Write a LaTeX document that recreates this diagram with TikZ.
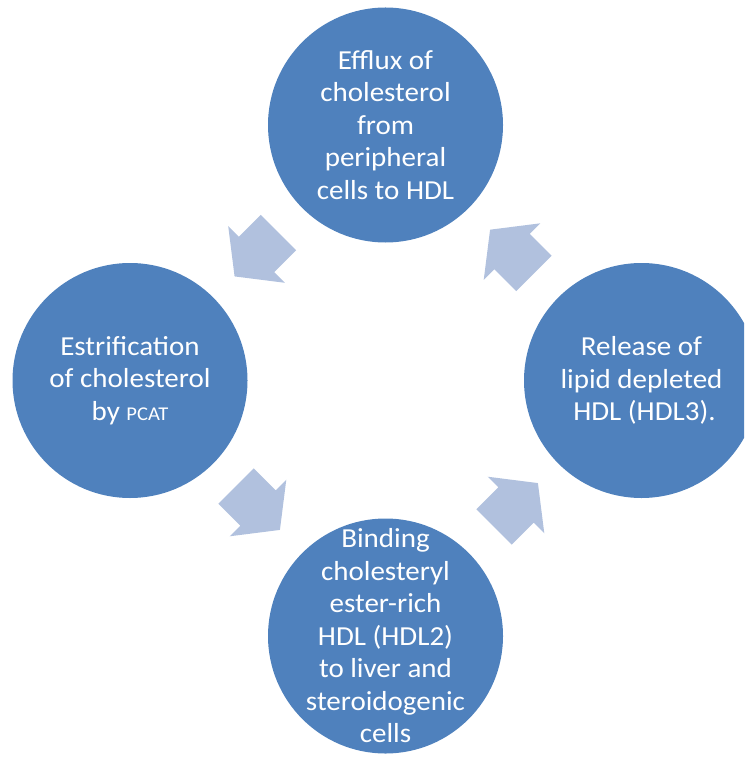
\documentclass[tikz,border=0pt]{standalone}
\usepackage{fontspec}
\setmainfont{Carlito}[FakeStretch=1.055]
\definecolor{circblue}{RGB}{79,129,189}
\definecolor{arrowblue}{RGB}{177,193,222}
\begin{document}
\begin{tikzpicture}[x=1pt,y=-1pt,
  stage/.style={circle, fill=circblue, minimum size=235pt, inner sep=0pt},
  stagetext/.style={inner sep=0pt, text=white, align=center, font=\fontsize{27.5}{32.5}\selectfont},
  cyclearrow/.pic={\fill[arrowblue] (-31,-25) -- (0,-25) -- (0,-40) -- (31,0) -- (0,40) -- (0,25) -- (-31,25) -- cycle;}]
\useasboundingbox (0,0) rectangle (744,759);
\clip (0,0) rectangle (744,759);
\node[stage] (top) at (385.5,125) {};
\node[stage] (left) at (130,380.5) {};
\node[stage] (right) at (641.5,380.5) {};
\node[stage] (bottom) at (385.5,636) {};
\node[stagetext] (toptext) at (top.center) {Efflux of\\cholesterol\\from\\peripheral\\cells to HDL};
\node[stagetext] (lefttext) at (left.center) {Estrification\\of cholesterol\\by {\fontsize{19.5}{20}\selectfont PCAT}};
\node[stagetext] (righttext) at (right.center) {Release of\\lipid depleted\\\hspace*{6pt}HDL (HDL3).};
\node[stagetext] (bottomtext) at (bottom.center) {Binding\\cholesteryl\\ester-rich\\HDL (HDL2)\\to liver and\\steroidogenic\\cells};
\pic[rotate=225] at (256.5,254.5) {cyclearrow};
\pic[rotate=-45] at (258,508) {cyclearrow};
\pic[rotate=45] at (516,505) {cyclearrow};
\pic[rotate=135] at (512,251.6) {cyclearrow};
\end{tikzpicture}
\end{document}
